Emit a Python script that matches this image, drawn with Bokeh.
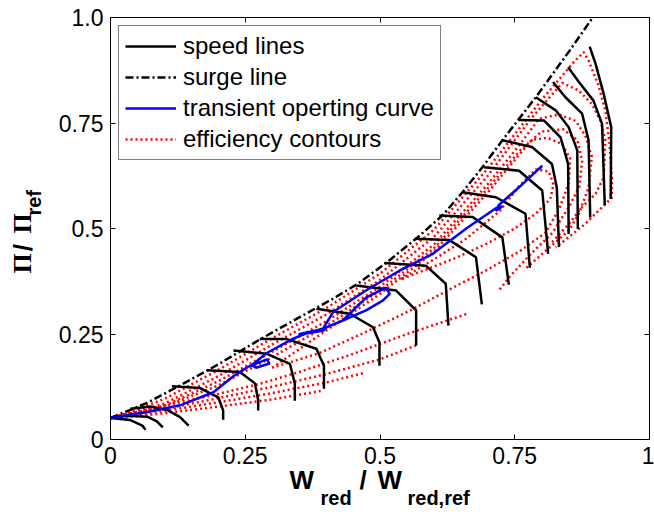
import math
from bokeh.plotting import figure
from bokeh.layouts import row, column
from bokeh.models import (Range1d, LinearAxis, FixedTicker, Legend, LegendItem, Label, CustomLabelingPolicy)
from bokeh.embed import file_html
from bokeh.resources import INLINE

# ---------------- data ----------------
tick_vals = [0, 0.25, 0.5, 0.75, 1]
x_tick_labels = ["0", "0.25", "0.5", "0.75", "1"]
y_tick_labels = ["0", "0.25", "0.5", "0.75", "1.0"]

surge_x = [0.0, 0.068, 0.129, 0.20, 0.277, 0.351, 0.412, 0.459, 0.511, 0.567, 0.616, 0.653, 0.690, 0.727, 0.789, 0.851, 0.893]
surge_y = [0.051, 0.087, 0.128, 0.178, 0.237, 0.290, 0.333, 0.369, 0.418, 0.476, 0.531, 0.586, 0.645, 0.709, 0.811, 0.920, 0.997]

speed_x = [
    [0.0, 0.037, 0.059, 0.065],
    [0.0, 0.031, 0.068, 0.086, 0.097],
    [0.037, 0.074, 0.105, 0.129, 0.145],
    [0.114, 0.166, 0.200, 0.209, 0.209],
    [0.179, 0.240, 0.268, 0.274, 0.274],
    [0.228, 0.290, 0.333, 0.342, 0.342],
    [0.277, 0.327, 0.382, 0.396, 0.396],
    [0.382, 0.444, 0.487, 0.499, 0.499],
    [0.456, 0.530, 0.567, 0.567],
    [0.508, 0.585, 0.622, 0.627],
    [0.564, 0.628, 0.678, 0.689],
    [0.610, 0.672, 0.727, 0.739],
    [0.653, 0.715, 0.770, 0.778],
    [0.693, 0.758, 0.801, 0.812],
    [0.727, 0.782, 0.819, 0.828, 0.832],
    [0.757, 0.804, 0.835, 0.849, 0.850],
    [0.789, 0.826, 0.850, 0.866, 0.867],
    [0.821, 0.844, 0.875, 0.887, 0.890],
    [0.849, 0.869, 0.896, 0.912, 0.917],
    [0.889, 0.900, 0.915, 0.929, 0.928],
]
speed_y = [
    [0.051, 0.046, 0.033, 0.023],
    [0.051, 0.056, 0.054, 0.043, 0.029],
    [0.073, 0.078, 0.070, 0.053, 0.033],
    [0.126, 0.122, 0.100, 0.069, 0.047],
    [0.164, 0.160, 0.133, 0.093, 0.069],
    [0.211, 0.203, 0.179, 0.132, 0.092],
    [0.238, 0.238, 0.215, 0.175, 0.120],
    [0.310, 0.298, 0.266, 0.230, 0.175],
    [0.365, 0.353, 0.306, 0.223],
    [0.418, 0.412, 0.369, 0.270],
    [0.476, 0.473, 0.432, 0.320],
    [0.531, 0.527, 0.479, 0.367],
    [0.586, 0.574, 0.535, 0.407],
    [0.645, 0.637, 0.590, 0.440],
    [0.709, 0.693, 0.653, 0.598, 0.456],
    [0.757, 0.756, 0.716, 0.653, 0.487],
    [0.811, 0.780, 0.740, 0.685, 0.499],
    [0.847, 0.811, 0.772, 0.709, 0.526],
    [0.882, 0.847, 0.803, 0.748, 0.555],
    [0.931, 0.890, 0.819, 0.740, 0.570],
]

blue_x = [0.0, 0.068, 0.129, 0.191, 0.228, 0.255, 0.290, 0.295, 0.270, 0.262, 0.290, 0.339, 0.36, 0.40, 0.395, 0.35, 0.351,
          0.394, 0.431, 0.474, 0.511, 0.518, 0.505, 0.474, 0.431, 0.394, 0.413, 0.474, 0.536, 0.598, 0.66, 0.715, 0.727,
          0.715, 0.72, 0.76, 0.801, 0.795]
blue_y = [0.051, 0.065, 0.081, 0.112, 0.150, 0.172, 0.190, 0.180, 0.170, 0.176, 0.205, 0.239, 0.250, 0.265, 0.258, 0.248, 0.250,
          0.262, 0.282, 0.336, 0.360, 0.345, 0.329, 0.306, 0.282, 0.262, 0.302, 0.353, 0.400, 0.44, 0.50, 0.548, 0.552,
          0.542, 0.555, 0.600, 0.649, 0.640]

eff_x = [
    [0.39, 0.3, 0.2, 0.1, 0.02, 0.0, 0.02, 0.1, 0.2, 0.3, 0.4, 0.5, 0.6, 0.7, 0.8, 0.86, 0.878, 0.887, 0.905, 0.918,
     0.926, 0.930, 0.930, 0.88, 0.826],
    [0.468, 0.4, 0.3, 0.2, 0.1, 0.0, 0.1, 0.2, 0.3, 0.4, 0.5, 0.6, 0.7, 0.78, 0.838, 0.869, 0.893, 0.909, 0.918,
     0.915, 0.900, 0.875, 0.85, 0.815],
    [0.567, 0.5, 0.4, 0.3, 0.2, 0.1, 0.0, 0.1, 0.2, 0.3, 0.4, 0.5, 0.6, 0.7, 0.76, 0.795, 0.832, 0.863, 0.881, 0.893,
     0.887, 0.869, 0.850, 0.81, 0.77],
    [0.66, 0.55, 0.444, 0.35, 0.277, 0.2, 0.1, 0.0, 0.1, 0.2, 0.3, 0.4, 0.5, 0.6, 0.7, 0.76, 0.80, 0.84, 0.866, 0.875,
     0.870, 0.85, 0.82, 0.78, 0.74, 0.72],
    [0.30, 0.4, 0.5, 0.6, 0.7, 0.755, 0.782, 0.810, 0.838, 0.853, 0.850, 0.832, 0.807, 0.758, 0.696, 0.628, 0.555,
     0.474, 0.388, 0.30],
    [0.539, 0.598, 0.659, 0.721, 0.758, 0.789, 0.813, 0.822, 0.816, 0.789, 0.75, 0.70, 0.64, 0.58, 0.539],
]
eff_y = [
    [0.115, 0.095, 0.078, 0.062, 0.052, 0.051, 0.058, 0.096, 0.165, 0.240, 0.311, 0.393, 0.497, 0.642, 0.805, 0.895,
     0.918, 0.898, 0.840, 0.780, 0.700, 0.620, 0.573, 0.510, 0.455],
    [0.157, 0.135, 0.110, 0.088, 0.068, 0.051, 0.085, 0.150, 0.225, 0.296, 0.378, 0.480, 0.625, 0.760, 0.845, 0.827,
     0.795, 0.756, 0.709, 0.621, 0.582, 0.551, 0.510, 0.462],
    [0.223, 0.190, 0.155, 0.125, 0.098, 0.072, 0.051, 0.080, 0.138, 0.208, 0.280, 0.362, 0.462, 0.605, 0.700, 0.760,
     0.770, 0.755, 0.720, 0.670, 0.597, 0.535, 0.495, 0.450, 0.405],
    [0.297, 0.250, 0.200, 0.160, 0.132, 0.108, 0.080, 0.051, 0.078, 0.128, 0.195, 0.269, 0.353, 0.453, 0.595, 0.685,
     0.730, 0.735, 0.710, 0.660, 0.600, 0.550, 0.490, 0.440, 0.385, 0.352],
    [0.170, 0.258, 0.345, 0.445, 0.585, 0.670, 0.710, 0.715, 0.700, 0.665, 0.606, 0.545, 0.490, 0.445, 0.400, 0.355,
     0.305, 0.255, 0.205, 0.170],
    [0.380, 0.425, 0.475, 0.540, 0.600, 0.640, 0.635, 0.605, 0.570, 0.535, 0.500, 0.465, 0.430, 0.400, 0.380],
]

FONT = "Liberation Sans"

# ---------------- main plot ----------------
p = figure(width=604, height=473, output_backend="svg", toolbar_location=None,
           x_range=Range1d(0, 1), y_range=Range1d(0, 1),
           min_border_left=60, min_border_right=3, min_border_top=17, min_border_bottom=34)
p.background_fill_color = "white"
p.border_fill_color = "white"
p.outline_line_color = "black"
p.outline_line_width = 1
p.xgrid.visible = False
p.ygrid.visible = False

def style_axis(ax, labels, show_labels=True):
    ax.ticker = FixedTicker(ticks=tick_vals)
    ax.major_label_overrides = {v: l for v, l in zip(tick_vals, labels)}
    ax.minor_tick_line_color = None
    ax.major_tick_in = 5
    ax.major_tick_out = 0
    ax.axis_line_color = "black"
    ax.major_tick_line_color = "black"
    ax.major_label_text_font = FONT
    ax.major_label_text_color = "black"
    if show_labels:
        ax.major_label_text_font_size = "23px"
        ax.major_label_standoff = 7
    else:
        ax.major_label_text_font_size = "1px"
        ax.major_label_standoff = 0
        ax.major_label_policy = CustomLabelingPolicy(code="return []")

style_axis(p.xaxis[0], x_tick_labels)
style_axis(p.yaxis[0], y_tick_labels)
top_ax = LinearAxis()
right_ax = LinearAxis()
style_axis(top_ax, x_tick_labels, False)
style_axis(right_ax, y_tick_labels, False)
p.add_layout(top_ax, "above")
p.add_layout(right_ax, "right")

eff_r = p.multi_line(eff_x, eff_y, line_color="red", line_width=2.5, line_dash="2 3")
speed_r = p.multi_line(speed_x, speed_y, line_color="black", line_width=2.5)
surge_r = p.line(surge_x, surge_y, line_color="black", line_width=2.5, line_dash="8 3 2 3")
blue_r = p.line(blue_x, blue_y, line_color="blue", line_width=2.5)

legend = Legend(items=[
    LegendItem(label="speed lines", renderers=[speed_r]),
    LegendItem(label="surge line", renderers=[surge_r]),
    LegendItem(label="transient operting curve", renderers=[blue_r]),
    LegendItem(label="efficiency contours", renderers=[eff_r]),
], location="top_left")
legend.label_text_font = FONT
legend.label_text_font_size = "24px"
legend.label_text_color = "black"
legend.border_line_color = "black"
legend.border_line_width = 1
legend.background_fill_alpha = 1
legend.margin = 8
legend.padding = 6
legend.spacing = 3
legend.glyph_width = 51
legend.label_standoff = 7
p.add_layout(legend)

# ---------------- axis titles (own small text panels) ----------------
def text_panel(w, h, transparent=False):
    f = figure(width=w, height=h, output_backend="svg", toolbar_location=None,
               x_range=Range1d(0, w), y_range=Range1d(0, h),
               x_axis_type=None, y_axis_type=None, min_border=0)
    f.outline_line_color = None
    if transparent:
        f.background_fill_alpha = 0
        f.border_fill_alpha = 0
    else:
        f.background_fill_color = "white"
        f.border_fill_color = "white"
    return f

xlab = text_panel(654, 49, transparent=True)
xlab.margin = (-10, 0, 0, 0)
bold = dict(text_font=FONT, text_font_style="bold", text_color="black",
            text_baseline="alphabetic", text_align="left")
xlab.add_layout(Label(x=289, y=33, text="W", text_font_size="26px", **bold))
xlab.add_layout(Label(x=320, y=15, text="red", text_font_size="20px", **bold))
xlab.add_layout(Label(x=359, y=33, text="/", text_font_size="26px", **bold))
xlab.add_layout(Label(x=377, y=33, text="W", text_font_size="26px", **bold))
xlab.add_layout(Label(x=407, y=15, text="red,ref", text_font_size="20px", **bold))

ylab = text_panel(50, 473)
serif = dict(text_font="Liberation Serif", text_font_style="bold", text_color="black",
             text_baseline="alphabetic", text_align="left", angle=math.pi / 2)
ylab.add_layout(Label(x=22, y=186, text="Π", text_font_size="26px", **serif))
ylab.add_layout(Label(x=22, y=211, text="/", text_font_size="26px", **dict(serif, text_font=FONT)))
ylab.add_layout(Label(x=22, y=231, text="Π", text_font_size="26px", **serif))
ylab.add_layout(Label(x=33, y=251, text="ref", text_font_size="20px", **dict(serif, text_font=FONT)))

layout = column(row(ylab, p, spacing=0), xlab, spacing=0)
open("out.html", "w").write(file_html(layout, INLINE))
